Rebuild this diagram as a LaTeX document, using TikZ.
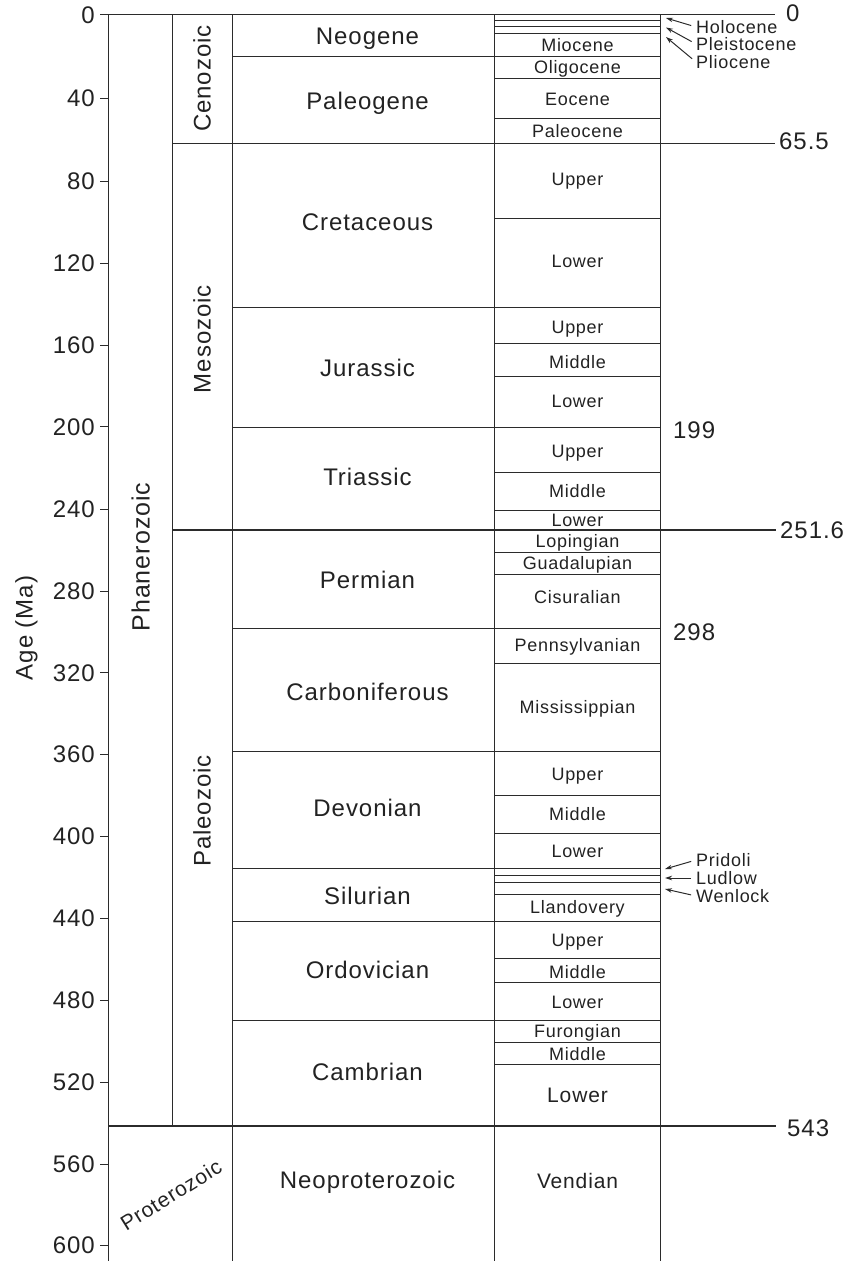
\documentclass[tikz,border=0pt]{standalone}
\usepackage{fontspec}
\setmainfont{Liberation Sans}[LetterSpace=4]
\usetikzlibrary{arrows.meta}
\definecolor{ink}{HTML}{222222}
\definecolor{rule}{HTML}{2b2b2b}
\begin{document}
\begin{tikzpicture}[x=1pt,y=-1pt,
  ln/.style={draw=rule,line width=1pt},
  thk/.style={draw=rule,line width=2.1pt},
  big/.style={font=\fontsize{24}{26}\selectfont,text=ink,inner sep=0pt,text height=17pt,text depth=0pt},
  small/.style={font=\fontsize{18}{20}\selectfont,text=ink,inner sep=0pt,text height=13pt,text depth=0pt},
  mid/.style={font=\fontsize{21}{23}\selectfont,text=ink,inner sep=0pt,text height=15pt,text depth=0pt},
  era/.style={big,rotate=90},
  per/.style={big},
  epo/.style={small},
  tick/.style={big,anchor=east},
  age/.style={big,anchor=west},
  lab/.style={small,anchor=west},
  arr/.style={draw=rule,line width=1pt,-{Stealth[length=7pt,width=4.5pt]},shorten <=5pt}
]
\useasboundingbox (0,0) rectangle (848,1261);

% ---------- axis and vertical column lines
\draw[ln] (108,14.5) -- (108,1261);
\draw[ln] (172,14.5) -- (172,1126);
\draw[ln] (232,14.5) -- (232,1261);
\draw[ln] (494.5,14.5) -- (494.5,1261);
\draw[ln] (660,14.5) -- (660,1261);

% ---------- ticks and tick labels
\foreach \v/\y in {0/14.5,40/98,80/181,120/263,160/345,200/426.5,240/509,280/591,
                   320/672.5,360/754,400/836,440/918,480/1000,520/1082,560/1164,600/1245}{
  \draw[ln] (100,\y) -- (108,\y);
  \node[tick] (t\v) at (95,\y) {\v};
}
\node[big,rotate=90] (agelab) at (24,628) {Age (Ma)};

% ---------- horizontal boundaries
\draw[ln] (100,14.5) -- (775,14.5);
\foreach \y in {20.5,26.5,33.5,78.5,118.5,218.5,343.5,376.5,472.5,510.5,552.5,574.5,663.5,
                795.5,833.5,875.5,882.5,894.5,958.5,982.5,1042.5,1064.5}{
  \draw[ln] (494.5,\y) -- (660,\y);
}
\foreach \y in {56.5,307.5,427.5,628.5,751.5,868.5,921.5,1020.5}{
  \draw[ln] (232,\y) -- (660,\y);
}
\draw[ln] (172,143.5) -- (775,143.5);
\draw[thk] (172,530) -- (776,530);
\draw[thk] (108,1126) -- (776,1126);

% ---------- eon and era labels
\node[era,font=\fontsize{25}{27}\selectfont] (phan) at (141,557) {Phanerozoic};
\node[era] (ceno) at (202,78.5) {Cenozoic};
\node[era] (meso) at (202,339) {Mesozoic};
\node[era] (paleo) at (202,811) {Paleozoic};
\node[mid,rotate=32] (prot) at (171,1195) {Proterozoic};

% ---------- period labels
\node[per] (neog) at (367.5,36) {Neogene};
\node[per] (paleog) at (367.5,101) {Paleogene};
\node[per] (cret) at (367.5,222.3) {Cretaceous};
\node[per] (jur) at (367.5,367.5) {Jurassic};
\node[per] (tri) at (367.5,477.3) {Triassic};
\node[per] (perm) at (367.5,580) {Permian};
\node[per] (carb) at (367.5,691.7) {Carboniferous};
\node[per] (dev) at (367.5,807.7) {Devonian};
\node[per] (sil) at (367.5,896) {Silurian};
\node[per] (ord) at (367.5,970) {Ordovician};
\node[per] (camb) at (367.5,1072.3) {Cambrian};
\node[per] (neop) at (367.5,1180) {Neoproterozoic};

% ---------- epoch labels
\node[epo] (mio) at (577.5,45) {Miocene};
\node[epo] (oli) at (577.5,66.7) {Oligocene};
\node[epo] (eoc) at (577.5,99) {Eocene};
\node[epo] (pal) at (577.5,131) {Paleocene};
\node[epo] (kU) at (577.5,178.5) {Upper};
\node[epo] (kL) at (577.5,260.7) {Lower};
\node[epo] (jU) at (577.5,326.7) {Upper};
\node[epo] (jM) at (577.5,361.7) {Middle};
\node[epo] (jL) at (577.5,401) {Lower};
\node[epo] (trU) at (577.5,450.7) {Upper};
\node[epo] (trM) at (577.5,491) {Middle};
\node[epo] (trL) at (577.5,520) {Lower};
\node[epo] (lop) at (577.5,541) {Lopingian};
\node[epo] (gua) at (577.5,562.7) {Guadalupian};
\node[epo] (cis) at (577.5,597.3) {Cisuralian};
\node[epo] (pen) at (577.5,645) {Pennsylvanian};
\node[epo] (mis) at (577.5,707.3) {Mississippian};
\node[epo] (dU) at (577.5,774) {Upper};
\node[epo] (dM) at (577.5,814.3) {Middle};
\node[epo] (dL) at (577.5,850.7) {Lower};
\node[epo] (lla) at (577.5,907.3) {Llandovery};
\node[epo] (oU) at (577.5,940) {Upper};
\node[epo] (oM) at (577.5,971.7) {Middle};
\node[epo] (oL) at (577.5,1001.7) {Lower};
\node[epo] (fur) at (577.5,1030.7) {Furongian};
\node[epo] (cM) at (577.5,1054) {Middle};
\node[mid] (cL) at (577.5,1095) {Lower};
\node[mid] (ven) at (577.5,1181) {Vendian};

% ---------- ages at right
\node[age] (a0) at (786,13) {0};
\node[age] (a655) at (779,140.5) {65.5};
\node[age] (a199) at (673,430) {199};
\node[age] (a2516) at (780,530) {251.6};
\node[age] (a298) at (673,631.5) {298};
\node[age] (a543) at (787,1128) {543};

% ---------- short epochs with arrows
\node[lab] (holo) at (696,27) {Holocene};
\node[lab] (pleis) at (696,44) {Pleistocene};
\node[lab] (plio) at (696,62) {Pliocene};
\coordinate (holoT) at (666,18);
\coordinate (pleisT) at (666,27.5);
\coordinate (plioT) at (666,37);
\draw[arr] (holo.west) -- (holoT);
\draw[arr] (pleis.west) -- (pleisT);
\draw[arr] (plio.west) -- (plioT);

\node[lab] (prid) at (696,860) {Pridoli};
\node[lab] (lud) at (696,878) {Ludlow};
\node[lab] (wen) at (696,896) {Wenlock};
\coordinate (pridT) at (665,869);
\coordinate (ludT) at (665,878);
\coordinate (wenT) at (665,889);
\draw[arr] (prid.west) -- (pridT);
\draw[arr] (lud.west) -- (ludT);
\draw[arr] (wen.west) -- (wenT);
\end{tikzpicture}
\end{document}
